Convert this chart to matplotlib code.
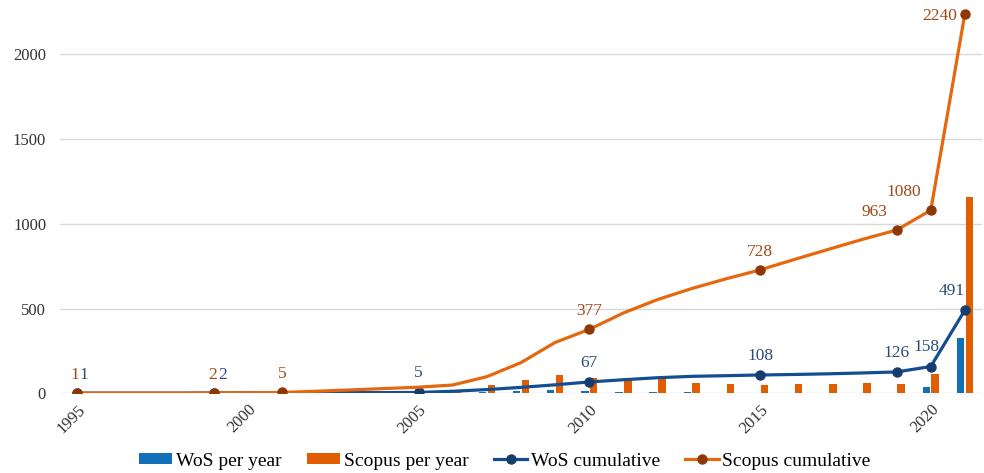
import numpy as np
import matplotlib
matplotlib.use("Agg")
import matplotlib.pyplot as plt

params = {'font.family': 'Liberation Serif',
          'font.size': 12,
          'xtick.labelsize': 12,
          'ytick.labelsize': 12,
          'legend.fontsize': 14}
plt.rcParams.update(params)

years = list(range(1995, 2022))

wos_per_year = [1, 0, 0, 0, 1, 0, 1, 0, 1, 0, 1, 5, 8, 15, 18, 15,
                10, 10, 7, 4, 4, 2, 3, 2, 3, 36, 329]
scopus_per_year = [1, 0, 0, 0, 1, 1, 2, 7, 8, 8, 8, 13, 47, 79, 105, 89,
                   89, 83, 63, 57, 51, 57, 53, 60, 53, 114, 1160]
wos_cumulative = [1, 1, 1, 1, 2, 2, 3, 3, 4, 4, 5, 12, 22, 35, 50, 67,
                  80, 92, 100, 104, 108, 111, 115, 120, 126, 158, 491]
scopus_cumulative = [1, 1, 1, 1, 2, 3, 5, 12, 20, 28, 36, 49, 98, 181, 300, 377,
                     474, 553, 618, 675, 728, 789, 849, 908, 963, 1080, 2240]

# years that get a marker + value label
wos_labelled = [1995, 1999, 2005, 2010, 2015, 2019, 2020, 2021]
scopus_labelled = [1995, 1999, 2001, 2010, 2015, 2019, 2020, 2021]

tick_years = [1995, 2000, 2005, 2010, 2015, 2020]

# label offsets in pixels (dx, dy up)
wos_off = {1995: (7, 18), 1999: (9, 18), 2021: (-13, 19), 2020: (-4, 20)}
scopus_off = {1995: (-2, 18), 1999: (-1, 18), 2019: (-22, 18), 2020: (-27, 18), 2021: (-25, -2)}

c_wos_bar = '#1170B8'
c_sco_bar = '#E05D00'
c_wos_line = '#124E91'
c_wos_mark = '#163D6E'
c_sco_line = '#E5670E'
c_sco_mark = '#8E3808'
c_wos_txt = '#2B4C78'
c_sco_txt = '#A04A17'

fig = plt.figure(figsize=(9.84, 4.73), dpi=100)
ax = fig.add_axes([60/984, 1 - 393.3/473, 922/984, 393.3/473])

x = np.arange(len(years))
w = 0.22
b1 = ax.bar(x - 0.13, wos_per_year, w, color=c_wos_bar, label='WoS per year', zorder=2)
b2 = ax.bar(x + 0.13, scopus_per_year, w, color=c_sco_bar, label='Scopus per year', zorder=2)

wos_idx = [years.index(y) for y in wos_labelled]
sco_idx = [years.index(y) for y in scopus_labelled]
l1, = ax.plot(x, wos_cumulative, color=c_wos_line, lw=2.3, marker='o', ms=6.5,
              mfc=c_wos_mark, mec=c_wos_mark, markevery=wos_idx, label='WoS cumulative', zorder=3)
l2, = ax.plot(x, scopus_cumulative, color=c_sco_line, lw=2.3, marker='o', ms=6.5,
              mfc=c_sco_mark, mec=c_sco_mark, markevery=sco_idx, label='Scopus cumulative', zorder=4)

for i in wos_idx:
    dx, dy = wos_off.get(years[i], (0, 19))
    ax.annotate(str(wos_cumulative[i]), (x[i], wos_cumulative[i]),
                xytext=(dx*0.72, dy*0.72), textcoords='offset points',
                ha='center', va='center', color=c_wos_txt, fontsize=12.5, zorder=5)
for i in sco_idx:
    dx, dy = scopus_off.get(years[i], (0, 18))
    ax.annotate(str(scopus_cumulative[i]), (x[i], scopus_cumulative[i]),
                xytext=(dx*0.72, dy*0.72), textcoords='offset points',
                ha='center', va='center', color=c_sco_txt, fontsize=12.5, zorder=5,
                annotation_clip=False)

ax.set_xlim(-0.5, len(years) - 0.5)
ax.set_ylim(0, 2320)
ax.set_yticks([0, 500, 1000, 1500, 2000])
ax.grid(axis='y', color='#d9d9d9', lw=1, zorder=0)
ax.set_axisbelow(True)
for s in ax.spines.values():
    s.set_visible(False)
ax.tick_params(length=0, colors='#333333')
ax.tick_params(axis='y', pad=10)

ax.set_xticks([years.index(y) for y in tick_years])
ax.set_xticklabels([str(y) for y in tick_years], rotation=45, ha='right',
                   rotation_mode='anchor')
ax.tick_params(axis='x', pad=6)

fig.legend([b1, b2, l1, l2], ['WoS per year', 'Scopus per year', 'WoS cumulative', 'Scopus cumulative'],
           loc='center', bbox_to_anchor=(505/984, 1 - 461/473), ncol=4, frameon=False,
           handlelength=1.7, handleheight=0.55, columnspacing=1.3, handletextpad=0.2)

fig.savefig('out.png', dpi=100)
